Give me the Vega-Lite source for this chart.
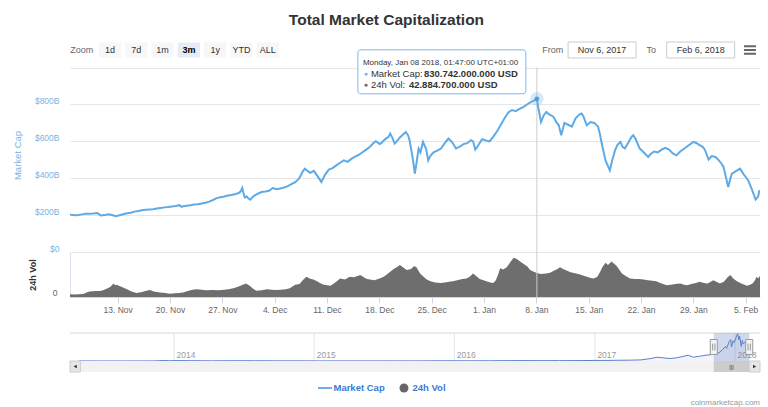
{
  "$schema": "https://vega.github.io/schema/vega-lite/v6.json",
  "background": "#ffffff",
  "padding": {"left": 12, "top": 12, "right": 0, "bottom": 0},
  "title": {"text": "Total Market Capitalization", "fontSize": 15.5, "fontWeight": "bold", "color": "#333333", "anchor": "middle", "offset": 12},
  "bounds": "flush",
  "spacing": 0,
  "config": {"font": "Liberation Sans", "view": {"stroke": null}},
  "datasets": {
    "cap": [
      {"t":"2017-11-06T15:00","v":203},{"t":"2017-11-06T18:00","v":202},{"t":"2017-11-07T06:00","v":199},{"t":"2017-11-07T18:00","v":201},
      {"t":"2017-11-08T06:00","v":204},{"t":"2017-11-08T18:00","v":207},{"t":"2017-11-09T06:00","v":208},{"t":"2017-11-09T18:00","v":209},
      {"t":"2017-11-10T06:00","v":211},{"t":"2017-11-10T12:00","v":205},{"t":"2017-11-10T18:00","v":198},{"t":"2017-11-11T06:00","v":200},
      {"t":"2017-11-11T18:00","v":204},{"t":"2017-11-12T06:00","v":201},{"t":"2017-11-12T18:00","v":194},{"t":"2017-11-13T06:00","v":199},
      {"t":"2017-11-13T18:00","v":205},{"t":"2017-11-14T06:00","v":210},{"t":"2017-11-14T18:00","v":213},{"t":"2017-11-15T06:00","v":219},
      {"t":"2017-11-15T18:00","v":222},{"t":"2017-11-16T06:00","v":226},{"t":"2017-11-16T18:00","v":229},{"t":"2017-11-17T06:00","v":231},
      {"t":"2017-11-17T18:00","v":232},{"t":"2017-11-18T06:00","v":236},{"t":"2017-11-18T18:00","v":239},{"t":"2017-11-19T06:00","v":242},
      {"t":"2017-11-19T18:00","v":244},{"t":"2017-11-20T06:00","v":247},{"t":"2017-11-20T18:00","v":249},{"t":"2017-11-21T06:00","v":254},
      {"t":"2017-11-21T13:00","v":245},{"t":"2017-11-21T18:00","v":248},{"t":"2017-11-22T06:00","v":251},{"t":"2017-11-22T18:00","v":254},
      {"t":"2017-11-23T06:00","v":257},{"t":"2017-11-23T18:00","v":259},{"t":"2017-11-24T06:00","v":263},{"t":"2017-11-24T18:00","v":267},
      {"t":"2017-11-25T06:00","v":273},{"t":"2017-11-25T18:00","v":282},{"t":"2017-11-26T06:00","v":292},{"t":"2017-11-26T18:00","v":297},
      {"t":"2017-11-27T06:00","v":301},{"t":"2017-11-27T18:00","v":306},{"t":"2017-11-28T06:00","v":309},{"t":"2017-11-28T18:00","v":314},
      {"t":"2017-11-29T06:00","v":321},{"t":"2017-11-29T12:00","v":331},{"t":"2017-11-29T16:00","v":347},{"t":"2017-11-29T20:00","v":318},
      {"t":"2017-11-30T00:00","v":296},{"t":"2017-11-30T06:00","v":301},{"t":"2017-11-30T12:00","v":290},{"t":"2017-11-30T18:00","v":284},
      {"t":"2017-12-01T00:00","v":296},{"t":"2017-12-01T06:00","v":305},{"t":"2017-12-01T18:00","v":316},{"t":"2017-12-02T06:00","v":325},
      {"t":"2017-12-02T18:00","v":328},{"t":"2017-12-03T06:00","v":332},{"t":"2017-12-03T18:00","v":347},{"t":"2017-12-04T06:00","v":340},
      {"t":"2017-12-04T18:00","v":344},{"t":"2017-12-05T06:00","v":350},{"t":"2017-12-05T18:00","v":357},{"t":"2017-12-06T06:00","v":368},
      {"t":"2017-12-06T18:00","v":379},{"t":"2017-12-07T06:00","v":398},{"t":"2017-12-07T12:00","v":416},{"t":"2017-12-07T18:00","v":436},
      {"t":"2017-12-08T01:00","v":452},{"t":"2017-12-08T06:00","v":445},{"t":"2017-12-08T18:00","v":429},{"t":"2017-12-09T06:00","v":440},
      {"t":"2017-12-09T18:00","v":410},{"t":"2017-12-10T06:00","v":380},{"t":"2017-12-10T18:00","v":420},{"t":"2017-12-11T06:00","v":447},
      {"t":"2017-12-11T18:00","v":455},{"t":"2017-12-12T06:00","v":470},{"t":"2017-12-12T18:00","v":484},{"t":"2017-12-13T06:00","v":497},
      {"t":"2017-12-13T18:00","v":489},{"t":"2017-12-14T06:00","v":505},{"t":"2017-12-14T18:00","v":517},{"t":"2017-12-15T06:00","v":527},
      {"t":"2017-12-15T18:00","v":541},{"t":"2017-12-16T06:00","v":555},{"t":"2017-12-16T18:00","v":571},{"t":"2017-12-17T06:00","v":592},
      {"t":"2017-12-17T13:00","v":601},{"t":"2017-12-18T01:00","v":585},{"t":"2017-12-18T06:00","v":590},{"t":"2017-12-18T18:00","v":611},
      {"t":"2017-12-19T06:00","v":626},{"t":"2017-12-19T11:00","v":642},{"t":"2017-12-19T18:00","v":619},{"t":"2017-12-20T01:00","v":588},
      {"t":"2017-12-20T06:00","v":596},{"t":"2017-12-20T18:00","v":621},{"t":"2017-12-21T06:00","v":640},{"t":"2017-12-21T13:00","v":651},
      {"t":"2017-12-21T20:00","v":634},{"t":"2017-12-22T01:00","v":606},{"t":"2017-12-22T06:00","v":560},{"t":"2017-12-22T12:00","v":500},
      {"t":"2017-12-22T18:00","v":425},{"t":"2017-12-23T00:00","v":490},{"t":"2017-12-23T06:00","v":561},{"t":"2017-12-23T12:00","v":540},
      {"t":"2017-12-23T20:00","v":597},{"t":"2017-12-24T06:00","v":560},{"t":"2017-12-24T13:00","v":497},{"t":"2017-12-24T20:00","v":521},
      {"t":"2017-12-25T06:00","v":540},{"t":"2017-12-25T18:00","v":550},{"t":"2017-12-26T06:00","v":561},{"t":"2017-12-26T18:00","v":590},
      {"t":"2017-12-27T06:00","v":615},{"t":"2017-12-27T18:00","v":595},{"t":"2017-12-28T06:00","v":561},{"t":"2017-12-28T18:00","v":571},
      {"t":"2017-12-29T06:00","v":585},{"t":"2017-12-29T18:00","v":590},{"t":"2017-12-30T06:00","v":606},{"t":"2017-12-30T13:00","v":600},
      {"t":"2017-12-30T20:00","v":555},{"t":"2017-12-31T06:00","v":580},{"t":"2017-12-31T18:00","v":612},{"t":"2018-01-01T06:00","v":605},
      {"t":"2018-01-01T18:00","v":600},{"t":"2018-01-02T06:00","v":626},{"t":"2018-01-02T18:00","v":655},{"t":"2018-01-03T06:00","v":690},
      {"t":"2018-01-03T18:00","v":725},{"t":"2018-01-04T06:00","v":757},{"t":"2018-01-04T18:00","v":770},{"t":"2018-01-05T06:00","v":764},
      {"t":"2018-01-05T18:00","v":776},{"t":"2018-01-06T06:00","v":786},{"t":"2018-01-06T18:00","v":800},{"t":"2018-01-07T06:00","v":813},
      {"t":"2018-01-07T18:00","v":822},{"t":"2018-01-08T01:47","v":830.742},{"t":"2018-01-08T06:00","v":785},{"t":"2018-01-08T15:00","v":705},
      {"t":"2018-01-09T00:00","v":742},{"t":"2018-01-09T08:00","v":759},{"t":"2018-01-09T18:00","v":745},{"t":"2018-01-10T06:00","v":735},
      {"t":"2018-01-10T18:00","v":700},{"t":"2018-01-11T00:00","v":687},{"t":"2018-01-11T08:00","v":633},{"t":"2018-01-11T18:00","v":700},
      {"t":"2018-01-12T06:00","v":690},{"t":"2018-01-12T18:00","v":680},{"t":"2018-01-13T06:00","v":725},{"t":"2018-01-13T18:00","v":745},
      {"t":"2018-01-14T01:00","v":751},{"t":"2018-01-14T06:00","v":740},{"t":"2018-01-14T18:00","v":687},{"t":"2018-01-15T06:00","v":705},
      {"t":"2018-01-15T18:00","v":700},{"t":"2018-01-16T06:00","v":680},{"t":"2018-01-16T12:00","v":640},{"t":"2018-01-16T18:00","v":588},
      {"t":"2018-01-17T06:00","v":497},{"t":"2018-01-17T13:00","v":470},{"t":"2018-01-17T20:00","v":443},{"t":"2018-01-18T04:00","v":500},
      {"t":"2018-01-18T13:00","v":552},{"t":"2018-01-18T20:00","v":580},{"t":"2018-01-19T06:00","v":597},{"t":"2018-01-19T13:00","v":570},
      {"t":"2018-01-19T20:00","v":561},{"t":"2018-01-20T06:00","v":590},{"t":"2018-01-20T18:00","v":625},{"t":"2018-01-20T23:00","v":633},
      {"t":"2018-01-21T06:00","v":615},{"t":"2018-01-21T20:00","v":561},{"t":"2018-01-22T06:00","v":545},{"t":"2018-01-22T23:00","v":515},
      {"t":"2018-01-23T06:00","v":530},{"t":"2018-01-23T18:00","v":545},{"t":"2018-01-24T06:00","v":540},{"t":"2018-01-24T18:00","v":555},
      {"t":"2018-01-25T06:00","v":565},{"t":"2018-01-25T18:00","v":555},{"t":"2018-01-26T06:00","v":535},{"t":"2018-01-26T18:00","v":524},
      {"t":"2018-01-27T06:00","v":545},{"t":"2018-01-27T18:00","v":560},{"t":"2018-01-28T06:00","v":575},{"t":"2018-01-29T00:00","v":597},
      {"t":"2018-01-29T11:00","v":590},{"t":"2018-01-29T20:00","v":580},{"t":"2018-01-30T06:00","v":570},{"t":"2018-01-30T13:00","v":555},
      {"t":"2018-01-31T01:00","v":501},{"t":"2018-01-31T11:00","v":520},{"t":"2018-01-31T23:00","v":515},{"t":"2018-02-01T06:00","v":505},
      {"t":"2018-02-01T18:00","v":480},{"t":"2018-02-02T01:00","v":461},{"t":"2018-02-02T08:00","v":410},{"t":"2018-02-02T16:00","v":352},
      {"t":"2018-02-02T23:00","v":400},{"t":"2018-02-03T04:00","v":425},{"t":"2018-02-03T18:00","v":440},{"t":"2018-02-04T06:00","v":452},
      {"t":"2018-02-04T18:00","v":420},{"t":"2018-02-05T08:00","v":389},{"t":"2018-02-05T20:00","v":340},{"t":"2018-02-06T08:00","v":284},
      {"t":"2018-02-06T16:00","v":300},{"t":"2018-02-06T20:00","v":335}
    ],
    "vol": [
      {"t":"2017-11-06T15:00","v":5},{"t":"2017-11-07T06:00","v":4.5},{"t":"2017-11-07T20:00","v":5},{"t":"2017-11-08T10:00","v":5.5},
      {"t":"2017-11-08T20:00","v":8},{"t":"2017-11-09T06:00","v":10},{"t":"2017-11-10T00:00","v":10.5},{"t":"2017-11-10T16:00","v":10.7},
      {"t":"2017-11-11T01:00","v":12},{"t":"2017-11-11T14:00","v":15},{"t":"2017-11-12T00:00","v":18},{"t":"2017-11-12T11:00","v":24},
      {"t":"2017-11-12T16:00","v":21},{"t":"2017-11-12T20:00","v":22},{"t":"2017-11-13T08:00","v":19},{"t":"2017-11-14T06:00","v":14},
      {"t":"2017-11-14T20:00","v":10},{"t":"2017-11-15T13:00","v":7},{"t":"2017-11-16T06:00","v":9},{"t":"2017-11-16T20:00","v":11},
      {"t":"2017-11-17T08:00","v":12.4},{"t":"2017-11-17T20:00","v":10},{"t":"2017-11-18T16:00","v":8},{"t":"2017-11-19T08:00","v":7},
      {"t":"2017-11-20T00:00","v":6},{"t":"2017-11-20T16:00","v":6.5},{"t":"2017-11-21T06:00","v":7},{"t":"2017-11-21T18:00","v":8},
      {"t":"2017-11-22T12:00","v":11},{"t":"2017-11-23T00:00","v":13},{"t":"2017-11-23T13:00","v":14},{"t":"2017-11-24T06:00","v":13},
      {"t":"2017-11-24T20:00","v":12},{"t":"2017-11-25T18:00","v":12.4},{"t":"2017-11-26T12:00","v":12},{"t":"2017-11-27T06:00","v":13},
      {"t":"2017-11-27T20:00","v":14},{"t":"2017-11-28T11:00","v":15.4},{"t":"2017-11-29T00:00","v":18},{"t":"2017-11-29T14:00","v":21},
      {"t":"2017-11-30T04:00","v":24},{"t":"2017-11-30T16:00","v":20},{"t":"2017-12-01T02:00","v":15},{"t":"2017-12-01T13:00","v":11},
      {"t":"2017-12-02T06:00","v":12},{"t":"2017-12-02T23:00","v":14},{"t":"2017-12-03T14:00","v":13},{"t":"2017-12-04T06:00","v":12.4},
      {"t":"2017-12-04T20:00","v":13},{"t":"2017-12-05T12:00","v":14},{"t":"2017-12-06T01:00","v":15.4},{"t":"2017-12-06T10:00","v":19},
      {"t":"2017-12-06T18:00","v":22},{"t":"2017-12-07T08:00","v":23},{"t":"2017-12-07T18:00","v":30},{"t":"2017-12-08T06:00","v":36},
      {"t":"2017-12-08T16:00","v":33},{"t":"2017-12-09T04:00","v":31},{"t":"2017-12-09T16:00","v":28},{"t":"2017-12-10T01:00","v":25},
      {"t":"2017-12-10T14:00","v":22},{"t":"2017-12-11T11:00","v":20},{"t":"2017-12-11T22:00","v":24},{"t":"2017-12-12T08:00","v":28},
      {"t":"2017-12-12T18:00","v":33},{"t":"2017-12-13T10:00","v":31},{"t":"2017-12-14T01:00","v":36},{"t":"2017-12-14T14:00","v":35},
      {"t":"2017-12-15T00:00","v":37},{"t":"2017-12-15T11:00","v":39},{"t":"2017-12-15T22:00","v":35},{"t":"2017-12-16T08:00","v":32},
      {"t":"2017-12-16T18:00","v":31},{"t":"2017-12-17T08:00","v":30},{"t":"2017-12-18T01:00","v":33},{"t":"2017-12-18T14:00","v":36},
      {"t":"2017-12-19T00:00","v":40},{"t":"2017-12-19T11:00","v":45},{"t":"2017-12-19T22:00","v":50},{"t":"2017-12-20T08:00","v":53},
      {"t":"2017-12-20T18:00","v":57},{"t":"2017-12-21T06:00","v":52},{"t":"2017-12-21T16:00","v":48},{"t":"2017-12-22T06:00","v":50},
      {"t":"2017-12-22T16:00","v":55},{"t":"2017-12-22T23:00","v":53},{"t":"2017-12-23T11:00","v":42},{"t":"2017-12-23T22:00","v":36},
      {"t":"2017-12-24T08:00","v":31},{"t":"2017-12-24T20:00","v":28},{"t":"2017-12-25T12:00","v":26},{"t":"2017-12-26T04:00","v":25},
      {"t":"2017-12-26T18:00","v":26},{"t":"2017-12-27T08:00","v":27},{"t":"2017-12-27T20:00","v":28},{"t":"2017-12-28T10:00","v":30},
      {"t":"2017-12-29T02:00","v":32},{"t":"2017-12-29T16:00","v":33},{"t":"2017-12-30T02:00","v":36},{"t":"2017-12-30T13:00","v":42},
      {"t":"2017-12-30T22:00","v":38},{"t":"2017-12-31T10:00","v":32},{"t":"2018-01-01T08:00","v":28},{"t":"2018-01-01T20:00","v":26},
      {"t":"2018-01-02T06:00","v":25},{"t":"2018-01-02T14:00","v":30},{"t":"2018-01-02T20:00","v":38},{"t":"2018-01-03T04:00","v":51},
      {"t":"2018-01-03T14:00","v":49},{"t":"2018-01-04T01:00","v":53},{"t":"2018-01-04T10:00","v":60},{"t":"2018-01-04T23:00","v":70},
      {"t":"2018-01-05T08:00","v":68},{"t":"2018-01-05T20:00","v":63},{"t":"2018-01-06T10:00","v":58},{"t":"2018-01-06T20:00","v":54},
      {"t":"2018-01-07T04:00","v":48},{"t":"2018-01-07T16:00","v":45},{"t":"2018-01-08T01:47","v":42.8847},{"t":"2018-01-08T14:00","v":41},
      {"t":"2018-01-09T08:00","v":42},{"t":"2018-01-09T20:00","v":43},{"t":"2018-01-10T10:00","v":47},{"t":"2018-01-10T20:00","v":50},
      {"t":"2018-01-11T04:00","v":53},{"t":"2018-01-11T14:00","v":50},{"t":"2018-01-12T01:00","v":47},{"t":"2018-01-12T14:00","v":44},
      {"t":"2018-01-13T08:00","v":42},{"t":"2018-01-13T20:00","v":40},{"t":"2018-01-14T08:00","v":38},{"t":"2018-01-14T18:00","v":36},
      {"t":"2018-01-15T06:00","v":34},{"t":"2018-01-15T16:00","v":33},{"t":"2018-01-16T04:00","v":36},{"t":"2018-01-16T13:00","v":45},
      {"t":"2018-01-16T20:00","v":53},{"t":"2018-01-17T06:00","v":61},{"t":"2018-01-17T14:00","v":57},{"t":"2018-01-17T20:00","v":60},
      {"t":"2018-01-18T01:00","v":63},{"t":"2018-01-18T10:00","v":59},{"t":"2018-01-18T18:00","v":55},{"t":"2018-01-19T04:00","v":47},
      {"t":"2018-01-19T11:00","v":42},{"t":"2018-01-20T00:00","v":37},{"t":"2018-01-20T13:00","v":33},{"t":"2018-01-21T04:00","v":32},
      {"t":"2018-01-21T18:00","v":32},{"t":"2018-01-22T08:00","v":31},{"t":"2018-01-22T22:00","v":30},{"t":"2018-01-23T12:00","v":29},
      {"t":"2018-01-24T01:00","v":28},{"t":"2018-01-24T14:00","v":25},{"t":"2018-01-25T11:00","v":21},{"t":"2018-01-26T00:00","v":22},
      {"t":"2018-01-26T14:00","v":23},{"t":"2018-01-27T06:00","v":24},{"t":"2018-01-27T18:00","v":22},{"t":"2018-01-28T04:00","v":21},
      {"t":"2018-01-28T18:00","v":23},{"t":"2018-01-29T08:00","v":25},{"t":"2018-01-29T20:00","v":27},{"t":"2018-01-30T10:00","v":25},
      {"t":"2018-01-30T22:00","v":24},{"t":"2018-01-31T16:00","v":30},{"t":"2018-02-01T02:00","v":27},{"t":"2018-02-01T13:00","v":24},
      {"t":"2018-02-02T02:00","v":27},{"t":"2018-02-02T14:00","v":35},{"t":"2018-02-02T23:00","v":39},{"t":"2018-02-03T08:00","v":33},
      {"t":"2018-02-03T20:00","v":28},{"t":"2018-02-04T10:00","v":24},{"t":"2018-02-04T20:00","v":22},{"t":"2018-02-05T04:00","v":20},
      {"t":"2018-02-05T14:00","v":22},{"t":"2018-02-05T22:00","v":24},{"t":"2018-02-06T06:00","v":30},{"t":"2018-02-06T11:00","v":36},
      {"t":"2018-02-06T16:00","v":33},{"t":"2018-02-06T22:00","v":38}
    ],
    "nav": [
      {"t":"2013-04-28T00:00","v":1.6},{"t":"2013-06-15T00:00","v":1.3},{"t":"2013-08-15T00:00","v":1.3},{"t":"2013-10-15T00:00","v":1.8},
      {"t":"2013-11-10T00:00","v":3.5},{"t":"2013-11-20T00:00","v":7.5},{"t":"2013-12-04T00:00","v":15.5},{"t":"2013-12-18T00:00","v":8},
      {"t":"2014-01-06T00:00","v":12},{"t":"2014-02-10T00:00","v":9.5},{"t":"2014-03-10T00:00","v":8},{"t":"2014-04-11T00:00","v":5.5},
      {"t":"2014-06-03T00:00","v":9},{"t":"2014-08-01T00:00","v":8},{"t":"2014-10-05T00:00","v":4.8},{"t":"2014-12-01T00:00","v":5.2},
      {"t":"2015-01-14T00:00","v":2.7},{"t":"2015-03-01T00:00","v":3.6},{"t":"2015-06-01T00:00","v":3.4},{"t":"2015-08-01T00:00","v":4.2},
      {"t":"2015-10-01T00:00","v":3.6},{"t":"2015-11-04T00:00","v":6.5},{"t":"2015-12-15T00:00","v":7},{"t":"2016-02-01T00:00","v":6.4},
      {"t":"2016-04-01T00:00","v":7.3},{"t":"2016-06-17T00:00","v":12.5},{"t":"2016-08-01T00:00","v":10.5},{"t":"2016-10-01T00:00","v":10.7},
      {"t":"2016-12-01T00:00","v":12.8},{"t":"2017-01-04T00:00","v":18},{"t":"2017-02-01T00:00","v":17.5},{"t":"2017-03-01T00:00","v":22},
      {"t":"2017-04-01T00:00","v":25},{"t":"2017-05-01T00:00","v":34},{"t":"2017-05-24T00:00","v":70},{"t":"2017-06-12T00:00","v":115},
      {"t":"2017-07-16T00:00","v":75},{"t":"2017-08-01T00:00","v":95},{"t":"2017-09-01T00:00","v":175},{"t":"2017-09-15T00:00","v":115},
      {"t":"2017-10-01T00:00","v":145},{"t":"2017-10-20T00:00","v":180},{"t":"2017-11-06T15:00","v":203},{"t":"2017-11-20T00:00","v":247},
      {"t":"2017-11-29T00:00","v":340},{"t":"2017-12-07T00:00","v":440},{"t":"2017-12-10T00:00","v":385},{"t":"2017-12-17T00:00","v":600},
      {"t":"2017-12-21T00:00","v":650},{"t":"2017-12-22T18:00","v":430},{"t":"2017-12-27T00:00","v":615},{"t":"2017-12-30T00:00","v":560},
      {"t":"2018-01-07T00:00","v":822},{"t":"2018-01-08T00:00","v":830},{"t":"2018-01-11T00:00","v":640},{"t":"2018-01-13T00:00","v":750},
      {"t":"2018-01-17T00:00","v":445},{"t":"2018-01-20T00:00","v":630},{"t":"2018-01-22T00:00","v":515},{"t":"2018-01-29T00:00","v":597},
      {"t":"2018-02-02T16:00","v":352},{"t":"2018-02-04T00:00","v":452},{"t":"2018-02-06T08:00","v":284},{"t":"2018-02-06T20:00","v":335}
    ],
    "tip": [
      {"t":"2018-01-08T01:47","cap":830.742,"vol":42.8847,"when":"Monday, Jan 08 2018, 01:47:00 UTC+01:00","capText":"830.742.000.000 USD","volText":"42.884.700.000 USD"}
    ],
    "sel": [{"range":"3m","start":"2017-11-06T15:00","end":"2018-02-06T22:00"}],
    "years": [{"y":"2014-01-01T00:00"},{"y":"2015-01-01T00:00"},{"y":"2016-01-01T00:00"},{"y":"2017-01-01T00:00"},{"y":"2018-01-01T00:00"}],
    "zoomItems": [
      {"label":"Zoom","role":"caption"},{"label":"1d","role":"button"},{"label":"7d","role":"button"},{"label":"1m","role":"button"},
      {"label":"3m","role":"button","selected":true},{"label":"1y","role":"button"},{"label":"YTD","role":"button"},{"label":"ALL","role":"button"}
    ],
    "rangeItems": [
      {"label":"From","role":"caption"},{"label":"Nov 6, 2017","role":"input"},{"label":"To","role":"caption"},
      {"label":"Feb 6, 2018","role":"input"},{"label":"menu","role":"menu"}
    ],
    "legendItems": [{"series":"Market Cap"},{"series":"24h Vol"}]
  },
  "vconcat": [
    {
      "width": 690, "height": 16,
      "resolve": {"scale": {"x": "independent"}},
      "layer": [
        {"data": {"name": "zoomItems"}, "transform": [{"filter": "datum.role == 'button'"}],
         "mark": {"type": "point", "shape": "M-1,-0.68L1,-0.68L1,0.68L-1,0.68Z", "size": 484, "filled": true, "opacity": 1, "strokeWidth": 0},
         "encoding": {"x": {"field": "label", "type": "nominal", "scale": {"type": "point", "domain": ["Zoom","1d","7d","1m","3m","1y","YTD","ALL","_1","_2","_3","_4","_5","_6","_7","_8","_9","_10","_11","_12","_13","_14","_15","_16","_17","_18"], "padding": 0.62, "align": 0.42}, "axis": null},
                      "fill": {"condition": {"test": "datum.selected", "value": "#e6ebf5"}, "value": "#f7f7f7"}}},
        {"data": {"name": "zoomItems"}, "transform": [{"filter": "datum.role == 'button' && !datum.selected"}],
         "mark": {"type": "text", "fontSize": 9, "color": "#333333"},
         "encoding": {"x": {"field": "label", "type": "nominal", "scale": {"type": "point", "domain": ["Zoom","1d","7d","1m","3m","1y","YTD","ALL","_1","_2","_3","_4","_5","_6","_7","_8","_9","_10","_11","_12","_13","_14","_15","_16","_17","_18"], "padding": 0.62, "align": 0.42}, "axis": null},
                      "text": {"field": "label"}}},
        {"data": {"name": "zoomItems"}, "transform": [{"filter": "datum.selected"}],
         "mark": {"type": "text", "fontSize": 9, "fontWeight": "bold", "color": "#000000"},
         "encoding": {"x": {"field": "label", "type": "nominal", "scale": {"type": "point", "domain": ["Zoom","1d","7d","1m","3m","1y","YTD","ALL","_1","_2","_3","_4","_5","_6","_7","_8","_9","_10","_11","_12","_13","_14","_15","_16","_17","_18"], "padding": 0.62, "align": 0.42}, "axis": null},
                      "text": {"field": "label"}}},
        {"data": {"name": "zoomItems"}, "transform": [{"filter": "datum.role == 'caption'"}],
         "mark": {"type": "text", "fontSize": 9, "color": "#666666", "dx": -2},
         "encoding": {"x": {"field": "label", "type": "nominal", "scale": {"type": "point", "domain": ["Zoom","1d","7d","1m","3m","1y","YTD","ALL","_1","_2","_3","_4","_5","_6","_7","_8","_9","_10","_11","_12","_13","_14","_15","_16","_17","_18"], "padding": 0.62, "align": 0.42}, "axis": null},
                      "text": {"field": "label"}}},
        {"data": {"name": "rangeItems"}, "transform": [{"filter": "datum.role == 'input'"}],
         "mark": {"type": "point", "shape": "M-1,-0.235L1,-0.235L1,0.235L-1,0.235Z", "size": 4624, "filled": true, "fill": "#ffffff", "stroke": "#cccccc", "strokeWidth": 1, "opacity": 1},
         "encoding": {"x": {"field": "label", "type": "nominal", "scale": {"type": "point", "domain": ["_1","_2","_3","_4","_5","_6","_7","_8","_9","From","Nov 6, 2017","To","Feb 6, 2018","menu"], "padding": 0.5, "align": 0.796}, "axis": null}}},
        {"data": {"name": "rangeItems"}, "transform": [{"filter": "datum.role == 'caption'"}],
         "mark": {"type": "text", "fontSize": 9, "color": "#666666"},
         "encoding": {"x": {"field": "label", "type": "nominal", "scale": {"type": "point", "domain": ["_1","_2","_3","_4","_5","_6","_7","_8","_9","From","Nov 6, 2017","To","Feb 6, 2018","menu"], "padding": 0.5, "align": 0.796}, "axis": null},
                      "text": {"field": "label"}}},
        {"data": {"name": "rangeItems"}, "transform": [{"filter": "datum.role == 'input'"}],
         "mark": {"type": "text", "fontSize": 9, "color": "#333333"},
         "encoding": {"x": {"field": "label", "type": "nominal", "scale": {"type": "point", "domain": ["_1","_2","_3","_4","_5","_6","_7","_8","_9","From","Nov 6, 2017","To","Feb 6, 2018","menu"], "padding": 0.5, "align": 0.796}, "axis": null},
                      "text": {"field": "label"}}},
        {"data": {"name": "rangeItems"}, "transform": [{"filter": "datum.role == 'menu'"}],
         "mark": {"type": "point", "shape": "M-1,-0.63L1,-0.63M-1,0L1,0M-1,0.63L1,0.63", "size": 144, "filled": false, "stroke": "#666666", "strokeWidth": 2, "opacity": 1},
         "encoding": {"x": {"field": "label", "type": "nominal", "scale": {"type": "point", "domain": ["_1","_2","_3","_4","_5","_6","_7","_8","_9","From","Nov 6, 2017","To","Feb 6, 2018","menu"], "padding": 0.5, "align": 0.796}, "axis": null}}}
      ]
    },
    {
      "width": 690, "height": 194,
      "layer": [
        {"data": {"name": "tip"}, "mark": {"type": "rule", "color": "#cccccc", "strokeWidth": 1},
         "encoding": {"x": {"field": "t", "type": "temporal", "scale": {"domain": [{"year":2017,"month":11,"date":6,"hours":15},{"year":2018,"month":2,"date":6,"hours":22}]}, "axis": null},
                      "y": {"datum": 0, "type": "quantitative", "scale": {"domain": [0, 1052], "nice": false},
                            "axis": {"values": [0,200,400,600,800,1000], "tickCount": 6, "labelExpr": "datum.value == 0 ? '$0' : datum.value >= 1000 ? '' : '$' + datum.value + 'B'",
                                     "grid": true, "gridColor": "#e6e6e6", "domain": false, "ticks": false, "tickSize": 0, "labelPadding": 11,
                                     "labelOffset": -4, "labelColor": "#78b3e6", "labelFontSize": 8.5, "labelFlush": false, "labelOverlap": false, "labelBound": false,
                                     "title": "Market Cap", "titleColor": "#78b3e6", "titleFontSize": 9.5, "titleFontWeight": "normal", "titlePadding": 12}},
                      "y2": {"datum": 1000}}},
        {"data": {"name": "cap"}, "mark": {"type": "line", "color": "#5eaae6", "strokeWidth": 2, "clip": true},
         "encoding": {"x": {"field": "t", "type": "temporal"},
                      "y": {"field": "v", "type": "quantitative"}}},
        {"data": {"name": "tip"}, "mark": {"type": "point", "filled": true, "size": 180, "color": "#7cb5ec", "opacity": 0.3},
         "encoding": {"x": {"field": "t", "type": "temporal"}, "y": {"field": "cap", "type": "quantitative"}}},
        {"data": {"name": "tip"}, "mark": {"type": "point", "filled": true, "size": 22, "color": "#4a9ee2", "opacity": 1},
         "encoding": {"x": {"field": "t", "type": "temporal"}, "y": {"field": "cap", "type": "quantitative"}}},
        {"data": {"name": "tip"}, "mark": {"type": "rect", "fill": "#ffffff", "fillOpacity": 0.92, "stroke": "#7cb5ec", "strokeWidth": 1, "cornerRadius": 3,
                                           "xOffset": -179, "x2Offset": -11, "yOffset": -49, "y2Offset": -5},
         "encoding": {"x": {"field": "t", "type": "temporal"}, "x2": {"field": "t"}, "y": {"field": "cap", "type": "quantitative"}, "y2": {"field": "cap"}}},
        {"data": {"name": "tip"}, "mark": {"type": "text", "align": "left", "baseline": "middle", "dx": -174, "dy": -36, "fontSize": 8, "color": "#333333"},
         "encoding": {"x": {"field": "t", "type": "temporal"}, "y": {"field": "cap", "type": "quantitative"}, "text": {"field": "when"}}},
        {"data": {"name": "tip"}, "mark": {"type": "text", "align": "center", "baseline": "middle", "dx": -171, "dy": -25, "fontSize": 7, "color": "#7cb5ec", "text": "●"},
         "encoding": {"x": {"field": "t", "type": "temporal"}, "y": {"field": "cap", "type": "quantitative"}}},
        {"data": {"name": "tip"}, "mark": {"type": "text", "align": "left", "baseline": "middle", "dx": -166, "dy": -25, "fontSize": 9.5, "color": "#333333", "text": "Market Cap:"},
         "encoding": {"x": {"field": "t", "type": "temporal"}, "y": {"field": "cap", "type": "quantitative"}}},
        {"data": {"name": "tip"}, "mark": {"type": "text", "align": "left", "baseline": "middle", "dx": -113, "dy": -25, "fontSize": 9.5, "fontWeight": "bold", "color": "#333333"},
         "encoding": {"x": {"field": "t", "type": "temporal"}, "y": {"field": "cap", "type": "quantitative"}, "text": {"field": "capText"}}},
        {"data": {"name": "tip"}, "mark": {"type": "text", "align": "center", "baseline": "middle", "dx": -171, "dy": -14, "fontSize": 7, "color": "#666666", "text": "●"},
         "encoding": {"x": {"field": "t", "type": "temporal"}, "y": {"field": "cap", "type": "quantitative"}}},
        {"data": {"name": "tip"}, "mark": {"type": "text", "align": "left", "baseline": "middle", "dx": -166, "dy": -14, "fontSize": 9.5, "color": "#333333", "text": "24h Vol:"},
         "encoding": {"x": {"field": "t", "type": "temporal"}, "y": {"field": "cap", "type": "quantitative"}}},
        {"data": {"name": "tip"}, "mark": {"type": "text", "align": "left", "baseline": "middle", "dx": -128, "dy": -14, "fontSize": 9.5, "fontWeight": "bold", "color": "#333333"},
         "encoding": {"x": {"field": "t", "type": "temporal"}, "y": {"field": "cap", "type": "quantitative"}, "text": {"field": "volText"}}}
      ]
    },
    {
      "width": 690, "height": 45,
      "layer": [
        {"data": {"name": "vol"}, "mark": {"type": "area", "color": "#6e6e6e", "clip": true},
         "encoding": {"x": {"field": "t", "type": "temporal", "scale": {"domain": [{"year":2017,"month":11,"date":6,"hours":15},{"year":2018,"month":2,"date":6,"hours":22}]},
                            "axis": {"values": [{"year":2017,"month":11,"date":13},{"year":2017,"month":11,"date":20},{"year":2017,"month":11,"date":27},{"year":2017,"month":12,"date":4},{"year":2017,"month":12,"date":11},{"year":2017,"month":12,"date":18},{"year":2017,"month":12,"date":25},{"year":2018,"month":1,"date":1},{"year":2018,"month":1,"date":8},{"year":2018,"month":1,"date":15},{"year":2018,"month":1,"date":22},{"year":2018,"month":1,"date":29},{"year":2018,"month":2,"date":5}],
                                     "labelExpr": "timeFormat(datum.value, '%-d. %b')", "grid": false, "domain": true, "domainColor": "#ccd6eb", "ticks": true, "tickColor": "#ccd6eb", "tickSize": 6,
                                     "labelPadding": 2, "labelColor": "#666666", "labelFontSize": 8.5, "labelFlush": false, "labelOverlap": false, "title": null}},
                      "y": {"field": "v", "type": "quantitative", "scale": {"domain": [0, 80], "nice": false},
                            "axis": {"values": [0, 80], "labelExpr": "datum.value == 0 ? '0' : ''", "grid": false, "domain": true, "domainColor": "#dde3ee", "ticks": false, "tickSize": 0,
                                     "labelPadding": 13, "labelBaseline": "bottom", "labelColor": "#666666", "labelFontSize": 8.5, "labelFlush": false, "labelOverlap": false,
                                     "title": "24h Vol", "titleColor": "#333333", "titleFontSize": 9, "titleFontWeight": "bold", "titlePadding": 15}}}},
        {"data": {"name": "tip"}, "mark": {"type": "rule", "color": "#cccccc", "strokeWidth": 1},
         "encoding": {"x": {"field": "t", "type": "temporal"}}}
      ]
    },
    {
      "width": 690, "height": 64,
      "layer": [
        {"data": {"name": "years"}, "mark": {"type": "rule", "color": "#e6e6e6", "strokeWidth": 1},
         "encoding": {"x": {"field": "y", "type": "temporal", "scale": {"domain": [{"year":2013,"month":4,"date":5},{"year":2018,"month":3,"date":7}]},
                            "axis": {"values": [{"year":2014,"month":1,"date":1},{"year":2015,"month":1,"date":1},{"year":2016,"month":1,"date":1},{"year":2017,"month":1,"date":1},{"year":2018,"month":1,"date":1}],
                                     "labelExpr": "timeFormat(datum.value, '%Y')", "domain": false, "ticks": false, "tickSize": 0, "grid": false,
                                     "labelAlign": "left", "labelBaseline": "bottom", "labelPadding": -2, "labelOffset": 2, "labelColor": "#999999", "labelFontSize": 8.5,
                                     "labelFlush": false, "labelOverlap": false, "title": null}},
                      "y": {"datum": 0, "type": "quantitative", "scale": {"domain": [0, 1943], "nice": false}, "axis": null},
                      "y2": {"datum": 850}}},
        {"data": {"values": [{}]}, "mark": {"type": "rule", "color": "#d9d9d9", "strokeWidth": 1},
         "encoding": {"x": {"datum": {"year":2013,"month":4,"date":5}, "type": "temporal"}, "x2": {"datum": {"year":2018,"month":3,"date":7}}, "y": {"datum": 850, "type": "quantitative"}}},
        {"data": {"name": "nav"}, "mark": {"type": "area", "fill": "#335cad", "fillOpacity": 0.06, "line": {"color": "#5b7fcc", "strokeWidth": 1}, "clip": true},
         "encoding": {"x": {"field": "t", "type": "temporal"}, "y": {"field": "v", "type": "quantitative"}}},
        {"data": {"name": "sel"}, "mark": {"type": "rect", "color": "#6685c2", "opacity": 0.3},
         "encoding": {"x": {"field": "start", "type": "temporal"}, "x2": {"field": "end"}, "y": {"datum": 0, "type": "quantitative"}, "y2": {"datum": 850}}},
        {"data": {"name": "sel"}, "mark": {"type": "point", "shape": "M-0.47,-1L0.47,-1L0.47,1L-0.47,1ZM-0.15,-0.45L-0.15,0.45M0.15,-0.45L0.15,0.45", "size": 225, "filled": true, "fill": "#f2f2f2", "stroke": "#999999", "strokeWidth": 1, "opacity": 1},
         "encoding": {"x": {"field": "start", "type": "temporal"}, "y": {"datum": 425, "type": "quantitative"}}},
        {"data": {"name": "sel"}, "mark": {"type": "point", "shape": "M-0.47,-1L0.47,-1L0.47,1L-0.47,1ZM-0.15,-0.45L-0.15,0.45M0.15,-0.45L0.15,0.45", "size": 225, "filled": true, "fill": "#f2f2f2", "stroke": "#999999", "strokeWidth": 1, "opacity": 1},
         "encoding": {"x": {"field": "end", "type": "temporal"}, "y": {"datum": 425, "type": "quantitative"}}}
      ]
    },
    {
      "width": 690, "height": 11,
      "layer": [
        {"data": {"values": [{}]}, "mark": {"type": "rect", "color": "#f2f2f2"},
         "encoding": {"x": {"datum": {"year":2013,"month":4,"date":5}, "type": "temporal", "scale": {"domain": [{"year":2013,"month":4,"date":5},{"year":2018,"month":3,"date":7}]}, "axis": null},
                      "x2": {"datum": {"year":2018,"month":3,"date":7}}}},
        {"data": {"name": "sel"}, "mark": {"type": "rect", "color": "#cccccc"},
         "encoding": {"x": {"field": "start", "type": "temporal"}, "x2": {"field": "end"}}},
        {"data": {"values": [{}]}, "mark": {"type": "rect", "fill": "#e6e6e6", "stroke": "#cccccc", "strokeWidth": 1},
         "encoding": {"x": {"datum": {"year":2013,"month":4,"date":5}, "type": "temporal"}, "x2": {"datum": {"year":2013,"month":5,"date":2}}}},
        {"data": {"values": [{}]}, "mark": {"type": "rect", "fill": "#e6e6e6", "stroke": "#cccccc", "strokeWidth": 1},
         "encoding": {"x": {"datum": {"year":2018,"month":2,"date":6,"hours":22}, "type": "temporal"}, "x2": {"datum": {"year":2018,"month":3,"date":7}}}},
        {"data": {"values": [{}]}, "mark": {"type": "point", "shape": "triangle-left", "size": 14, "filled": true, "color": "#333333", "opacity": 1},
         "encoding": {"x": {"datum": {"year":2013,"month":4,"date":18,"hours":12}, "type": "temporal"}}},
        {"data": {"values": [{}]}, "mark": {"type": "point", "shape": "triangle-right", "size": 14, "filled": true, "color": "#333333", "opacity": 1},
         "encoding": {"x": {"datum": {"year":2018,"month":2,"date":21}, "type": "temporal"}}},
        {"data": {"values": [{}]}, "mark": {"type": "text", "text": "|||", "fontSize": 6, "color": "#333333"},
         "encoding": {"x": {"datum": {"year":2017,"month":12,"date":22,"hours":18}, "type": "temporal"}}}
      ]
    },
    {
      "width": 690, "height": 32,
      "layer": [
        {"data": {"name": "legendItems"}, "transform": [{"filter": "datum.series == 'Market Cap'"}],
         "mark": {"type": "point", "shape": "stroke", "size": 196, "filled": false, "stroke": "#6ab0e8", "strokeWidth": 2, "opacity": 1},
         "encoding": {"x": {"field": "series", "type": "nominal", "scale": {"type": "point", "domain": ["_1","_2","_3","Market Cap","24h Vol","_4","_5","_6","_7"], "padding": 0.367, "align": 0.31}, "axis": null}}},
        {"data": {"name": "legendItems"}, "transform": [{"filter": "datum.series == '24h Vol'"}],
         "mark": {"type": "point", "shape": "circle", "size": 80, "filled": true, "color": "#666666", "opacity": 1},
         "encoding": {"x": {"field": "series", "type": "nominal"}}},
        {"data": {"name": "legendItems"},
         "mark": {"type": "text", "align": "left", "dx": 8.5, "fontSize": 9.5, "fontWeight": "bold", "color": "#3b7bd4"},
         "encoding": {"x": {"field": "series", "type": "nominal"}, "text": {"field": "series"}}},
        {"data": {"values": [{"source": "coinmarketcap.com"}]},
         "mark": {"type": "text", "align": "right", "baseline": "middle", "dy": -1, "fontSize": 8, "color": "#999999"},
         "encoding": {"x": {"value": "width"}, "y": {"value": "height"}, "text": {"field": "source"}}}
      ]
    }
  ]
}
